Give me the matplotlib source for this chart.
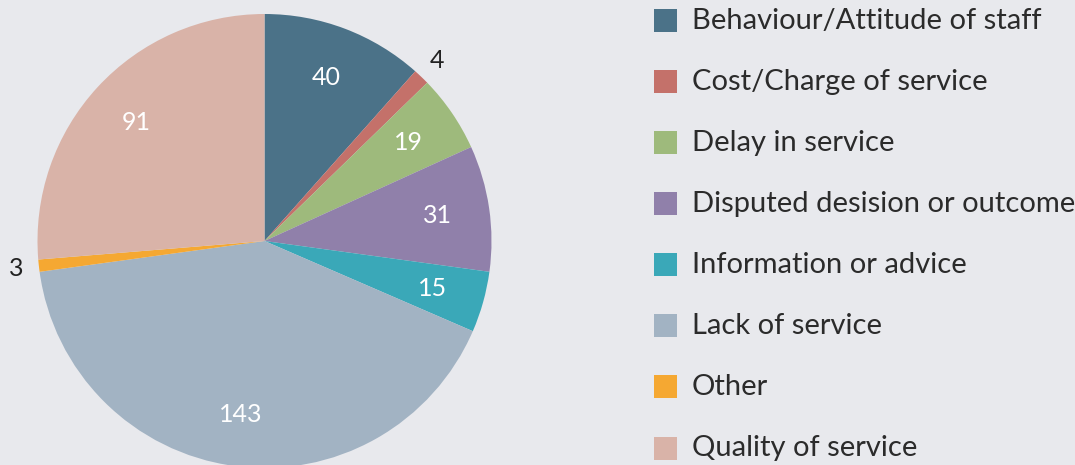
import numpy as np
import matplotlib.pyplot as plt
from matplotlib.patches import Rectangle

# complaint categories and counts
categories = ['Behaviour/Attitude of staff', 'Cost/Charge of service', 'Delay in service',
              'Disputed desision or outcome', 'Information or advice', 'Lack of service',
              'Other', 'Quality of service']
counts = [40, 4, 19, 31, 15, 143, 3, 91]
colors = ['#4b7288', '#c4716a', '#9eba7c', '#9080aa', '#3aa8b8', '#a2b3c3', '#f5a832', '#d9b3a8']

bg = '#e8e9ed'
plt.rcParams['font.family'] = ['Lato', 'DejaVu Sans']

W, H = 1075, 465
fig = plt.figure(figsize=(W / 100, H / 100), dpi=100, facecolor=bg)
ax = fig.add_axes([0, 0, 1, 1])
ax.set_facecolor(bg)

cx, cy, r = 264.5, H - 241, 227
wedges, _ = ax.pie(counts, colors=colors, startangle=90, counterclock=False,
                   center=(cx, cy), radius=r, wedgeprops=dict(linewidth=0))
ax.set_xlim(0, W)
ax.set_ylim(0, H)
ax.set_aspect('equal')
ax.axis('off')

# value labels: white inside, dark outside for the thin slices
for w, v in zip(wedges, counts):
    ang = np.deg2rad((w.theta1 + w.theta2) / 2)
    if v < 10:
        d, col = 1.10, '#222222'
    else:
        d, col = 0.77, 'white'
    ax.text(cx + d * r * np.cos(ang), cy + d * r * np.sin(ang), str(v),
            ha='center', va='center', fontsize=18, color=col)

# legend
y0, pitch = 21, 61
for i, (name, col) in enumerate(zip(categories, colors)):
    yc = H - (y0 + i * pitch)
    ax.add_patch(Rectangle((654, yc - 11.5), 23, 23, facecolor=col, linewidth=0))
    ax.text(692, yc, name, ha='left', va='center', fontsize=21, color='#2b2b2b')

fig.savefig('out.png', dpi=100, facecolor=bg)
